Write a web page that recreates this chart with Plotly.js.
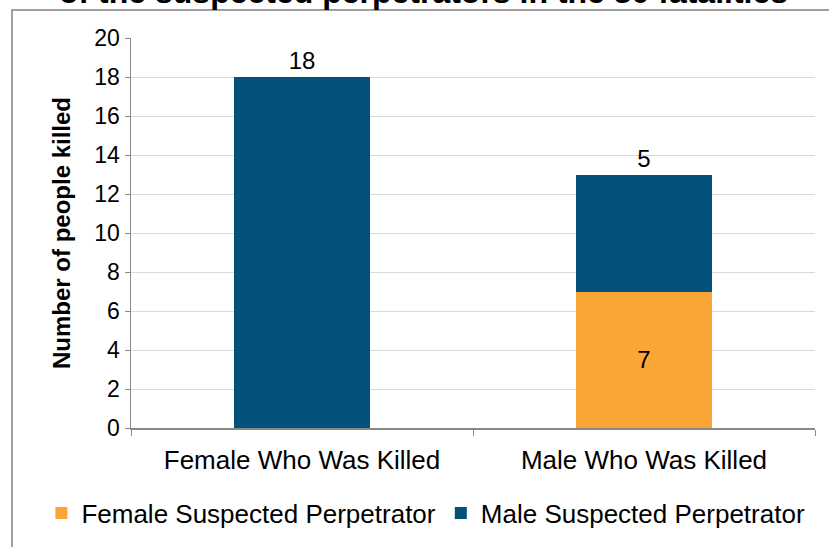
<!DOCTYPE html>
<html>
<head>
<meta charset="utf-8">
<script src="https://cdn.plot.ly/plotly-3.0.1.min.js"></script>
<style>
html,body{margin:0;padding:0;background:#fff;}
#chart{width:829px;height:547px;}
</style>
</head>
<body>
<div id="chart"></div>
<script>
const categories = ["Female Who Was Killed", "Male Who Was Killed"];
const femalePerp = [0, 7];
const malePerp = [18, 6];
const femaleLabels = ["", "7"];
const maleLabels = ["18", "5"];
const seriesNames = ["Female Suspected Perpetrator", "Male Suspected Perpetrator"];
const titleText = "of the suspected perpetrators in the 30 fatalities";
const yTitle = "Number of people killed";

const FONT = "Liberation Sans, Arial, sans-serif";

const traces = [
  {
    type: "bar", name: seriesNames[0], x: categories, y: femalePerp,
    marker: {color: "#F9A636"},
    text: femaleLabels, textposition: "inside", insidetextanchor: "middle",
    textfont: {family: FONT, size: 24, color: "#000"},
    constraintext: "none", hoverinfo: "none"
  },
  {
    type: "bar", name: seriesNames[1], x: categories, y: malePerp,
    marker: {color: "#02527A"},
    text: maleLabels, textposition: "outside",
    textfont: {family: FONT, size: 24, color: "#000"},
    outsidetextfont: {family: FONT, size: 24, color: "#000"},
    constraintext: "none", cliponaxis: false, hoverinfo: "none"
  }
];

const layout = {
  width: 829, height: 547,
  margin: {l: 131, r: 14, t: 38, b: 119, autoexpand: false},
  paper_bgcolor: "#fff", plot_bgcolor: "#fff",
  barmode: "stack", bargap: 0.6,
  font: {family: FONT, color: "#000"},
  showlegend: true,
  legend: {
    orientation: "h", x: -0.131, xanchor: "left", y: -0.218, yanchor: "middle",
    font: {family: FONT, size: 26, color: "#000"},
    traceorder: "normal", itemwidth: 30
  },
  xaxis: {
    type: "category", tickson: "boundaries",
    ticks: "outside", ticklen: 6, tickcolor: "#888", tickwidth: 1,
    showline: true, linecolor: "#888", linewidth: 1.5,
    tickfont: {family: FONT, size: 26, color: "#000"},
    ticklabelstandoff: 8,
    showgrid: false, zeroline: false, fixedrange: true
  },
  yaxis: {
    range: [0, 20], dtick: 2, tick0: 0,
    ticks: "outside", ticklen: 5, tickcolor: "#888", tickwidth: 1,
    showline: true, linecolor: "#888", linewidth: 1.5,
    showgrid: true, gridcolor: "#D9D9D9", gridwidth: 1,
    zeroline: false,
    tickfont: {family: FONT, size: 23, color: "#000"},
    title: {text: "<b>" + yTitle + "</b>", font: {family: FONT, size: 24, color: "#000"}, standoff: 17},
    fixedrange: true
  },
  shapes: [
    {type: "rect", xref: "paper", yref: "paper", x0: -0.174, x1: 1.2, y0: -0.6, y1: 1.0718,
     line: {color: "#A0A0A0", width: 2}, fillcolor: "rgba(0,0,0,0)", layer: "below"}
  ],
  annotations: [
    {text: "<b>" + titleText + "</b>", xref: "paper", yref: "paper", x: 0.427, y: 1.118, yanchor: "middle",
     showarrow: false, font: {family: FONT, size: 32, color: "#000"}}
  ]
};

Plotly.newPlot("chart", traces, layout, {displayModeBar: false, staticPlot: true});
</script>
</body>
</html>
